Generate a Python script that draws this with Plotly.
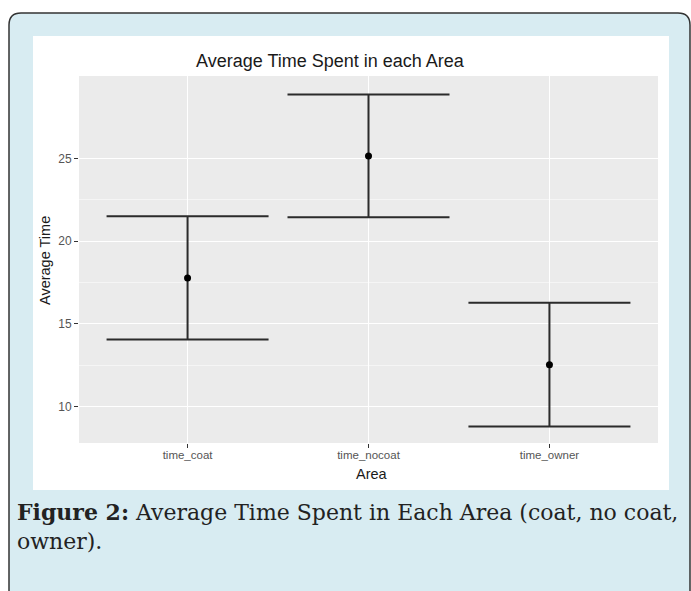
import plotly.graph_objects as go

areas = ["time_coat", "time_nocoat", "time_owner"]
means = [17.77, 25.15, 12.53]
upper = [21.50, 28.86, 16.27]
lower = [14.05, 21.45, 8.80]
y_ticks = [10, 15, 20, 25]
y_minor = [12.5, 17.5, 22.5]

W, H = 691, 591
L, R, T, B = 79, 658, 76, 443  # grey panel in pixels


def xp(px):
    return (px - L) / (R - L)


def yp(py):
    return (B - py) / (B - T)


fig = go.Figure()
fig.add_trace(go.Scatter(
    x=areas, y=means, mode="markers",
    marker=dict(color="black", size=7),
    error_y=dict(type="data", symmetric=False,
                 array=[u - m for u, m in zip(upper, means)],
                 arrayminus=[m - l for m, l in zip(means, lower)],
                 color="#2b2b2b", thickness=2, width=81),
    showlegend=False, hoverinfo="skip",
))

shapes = []
x0, y0, x1, y1, r = xp(9), yp(13), xp(690), yp(620), 12
rx = r / (R - L)
ry = r / (B - T)
path = (f"M {x0},{y1} L {x0},{y0 - ry} Q {x0},{y0} {x0 + rx},{y0} "
        f"L {x1 - rx},{y0} Q {x1},{y0} {x1},{y0 - ry} L {x1},{y1} Z")
shapes.append(dict(type="path", path=path, xref="paper", yref="paper",
                   fillcolor="#d8ecf2", line=dict(color="#333333", width=1.5),
                   layer="below"))
shapes.append(dict(type="rect", xref="paper", yref="paper",
                   x0=xp(33), x1=xp(669), y0=yp(36), y1=yp(490),
                   fillcolor="white", line=dict(width=0), layer="below"))
shapes.append(dict(type="rect", xref="paper", yref="paper",
                   x0=0, x1=1, y0=0, y1=1,
                   fillcolor="#ebebeb", line=dict(width=0), layer="below"))

annotations = [
    dict(text="Average Time Spent in each Area", x=xp(330), y=yp(61),
         xanchor="center", yanchor="middle",
         xref="paper", yref="paper", showarrow=False,
         font=dict(family="Liberation Sans, Arial", size=18, color="#1a1a1a")),
    dict(text="Average Time", x=xp(45), y=yp(261), textangle=-90,
         xanchor="center", yanchor="middle",
         xref="paper", yref="paper", showarrow=False,
         font=dict(family="Liberation Sans, Arial", size=14.5, color="#1a1a1a")),
    dict(text="Area", x=xp(372), y=yp(474),
         xanchor="center", yanchor="middle",
         xref="paper", yref="paper", showarrow=False,
         font=dict(family="Liberation Sans, Arial", size=14.5, color="#1a1a1a")),
    dict(text="<b>Figure 2:</b> Average Time Spent in Each Area (coat, no coat,<br>owner).",
         x=xp(15), y=yp(526), xanchor="left", yanchor="middle", align="left",
         xref="paper", yref="paper", showarrow=False,
         font=dict(family="DejaVu Serif", size=22, color="#222222")),
]

fig.update_layout(
    width=W, height=H,
    margin=dict(l=L, r=W - R, t=T, b=H - B, pad=0),
    paper_bgcolor="white", plot_bgcolor="rgba(0,0,0,0)",
    shapes=shapes, annotations=annotations,
    xaxis=dict(type="category", range=[-0.6, 2.6], showgrid=True,
               gridcolor="white", gridwidth=1.2, zeroline=False,
               ticks="outside", ticklen=4, tickcolor="#333333", tickwidth=1,
               ticklabelstandoff=-3,
               tickfont=dict(family="Liberation Sans, Arial", size=11.5, color="#555555"),
               showline=False, fixedrange=True),
    yaxis=dict(range=[7.8, 29.98], tickvals=y_ticks, showgrid=True,
               gridcolor="white", gridwidth=1.2, zeroline=False,
               ticks="outside", ticklen=4, tickcolor="#333333", tickwidth=1,
               tickfont=dict(family="Liberation Sans, Arial", size=12, color="#555555"),
               minor=dict(tickvals=y_minor, showgrid=True, gridcolor="#f5f5f5",
                          gridwidth=0.8, ticks=""),
               showline=False, fixedrange=True),
)

fig.write_html("out.html", config={"displayModeBar": False},
               post_script="document.body.style.margin='0';document.body.style.overflow='hidden';")
